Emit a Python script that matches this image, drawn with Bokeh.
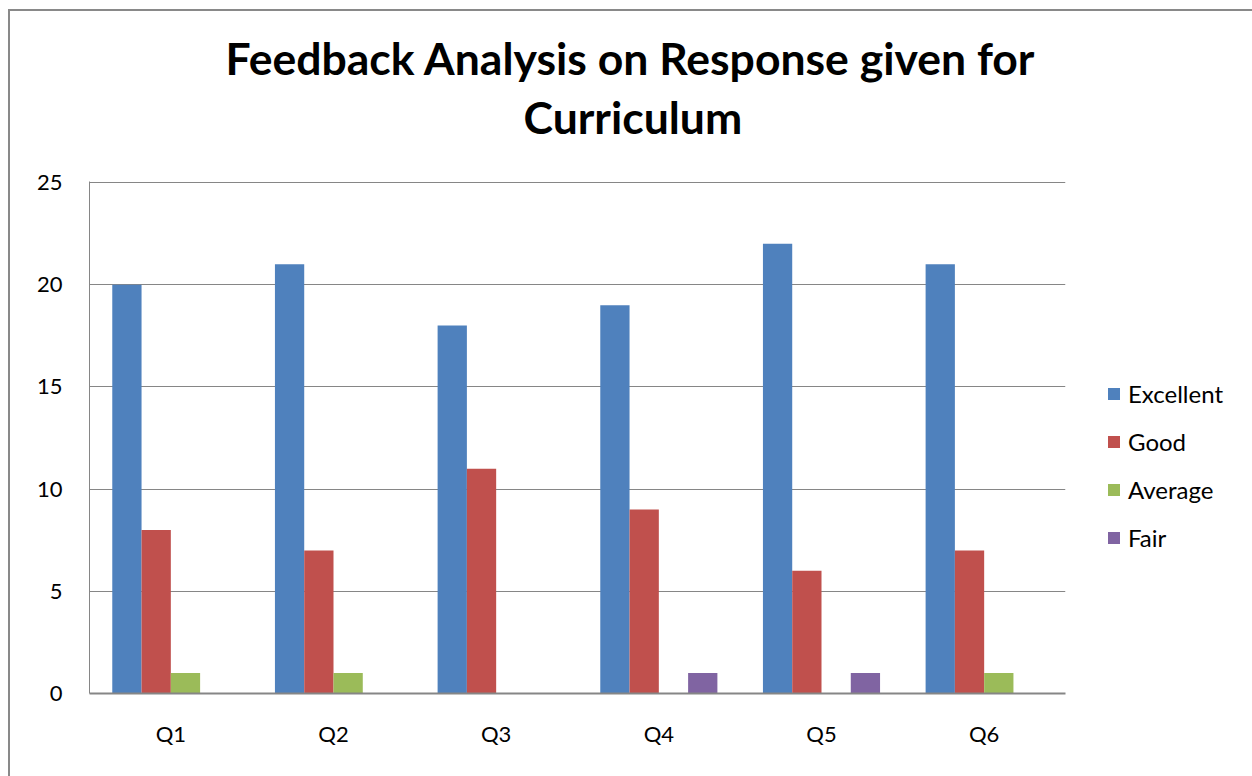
from bokeh.plotting import figure
from bokeh.models import ColumnDataSource, FactorRange, Range1d, Legend, LegendItem, Title, SingleIntervalTicker
from bokeh.transform import dodge
from bokeh.embed import file_html
from bokeh.resources import INLINE

questions = ["Q1", "Q2", "Q3", "Q4", "Q5", "Q6"]
excellent = [20, 21, 18, 19, 22, 21]
good = [8, 7, 11, 9, 6, 7]
average = [1, 1, 0, 0, 0, 1]
fair = [0, 0, 0, 1, 1, 0]
series_names = ["Excellent", "Good", "Average", "Fair"]
colors = ["#4F81BD", "#C0504D", "#9BBB59", "#8064A2"]
title_lines = ["Feedback Analysis on Response given for", "Curriculum"]

src = ColumnDataSource(dict(q=questions, Excellent=excellent, Good=good, Average=average, Fair=fair))

FONT = "Lato"
p = figure(x_range=FactorRange(*questions, range_padding=0), y_range=Range1d(0, 25.05),
           frame_width=976, frame_height=512, output_backend="svg", toolbar_location=None,
           min_border_left=79, min_border_right=184, min_border_top=170, min_border_bottom=83)
p.margin = (9, 0, 0, 8)
p.styles = {"border-top": "2px solid #898989", "border-left": "2px solid #898989",
            "border-right": "2px solid #898989"}

spacer = Title(text=" ", text_font=FONT, text_font_size="10px", standoff=20)
t2 = Title(text=title_lines[1], align="left", text_font=FONT, text_font_size="44.5px",
           text_font_style="bold", text_color="#000000", standoff=9, offset=434)
t1 = Title(text=title_lines[0], align="left", text_font=FONT, text_font_size="44.5px",
           text_font_style="bold", text_color="#000000", standoff=0, offset=136)
p.add_layout(spacer, "above")
p.add_layout(t2, "above")
p.add_layout(t1, "above")

offsets = [-0.27, -0.09, 0.09, 0.27]
items = []
for name, c, off in zip(series_names, colors, offsets):
    r = p.vbar(x=dodge("q", off, range=p.x_range), top=name, width=0.18, source=src,
               fill_color=c, line_color=None)
    items.append(LegendItem(label=name, renderers=[r]))

legend = Legend(items=items, location=(41, 141), border_line_color=None,
                label_text_font=FONT, label_text_font_size="24px", label_text_color="#000000",
                glyph_width=15, glyph_height=15, label_height=22, spacing=19, margin=0,
                padding=0, label_standoff=7)
p.add_layout(legend, "right")

p.outline_line_color = None
p.xgrid.grid_line_color = None
p.ygrid.grid_line_color = "#868686"
p.ygrid.grid_line_width = 1
p.yaxis.ticker = SingleIntervalTicker(interval=5)
for ax in (p.xaxis, p.yaxis):
    ax.axis_line_color = "#868686"
    ax.major_tick_line_color = None
    ax.minor_tick_line_color = None
    ax.major_label_text_font = FONT
    ax.major_label_text_font_size = "22px"
    ax.major_label_text_color = "#000000"
p.xaxis.axis_line_width = 2
p.yaxis.axis_line_width = 1
p.xaxis.major_label_standoff = 20
p.yaxis.major_label_standoff = 21

open("out.html", "w").write(file_html(p, INLINE))
